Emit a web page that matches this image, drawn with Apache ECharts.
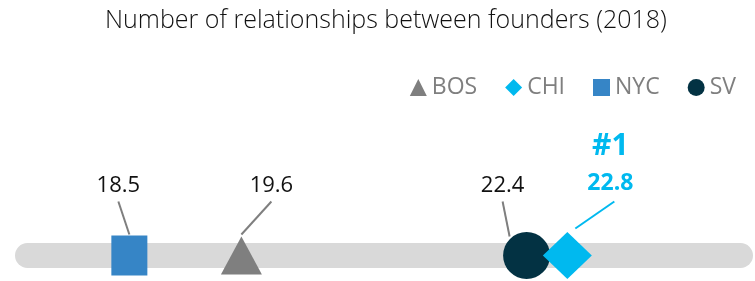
<!DOCTYPE html>
<html>
<head>
<meta charset="utf-8">
<script src="https://cdn.jsdelivr.net/npm/echarts@6/dist/echarts.min.js"></script>
<style>
  html, body { margin: 0; padding: 0; background: #fff; }
  #main { width: 755px; height: 281px; }
</style>
</head>
<body>
<div id="main"></div>
<script type="text/javascript">
// data
var cities = ['BOS', 'CHI', 'NYC', 'SV'];
var relationships = [19.6, 22.8, 18.5, 22.4];
var symbols = ['triangle', 'diamond', 'rect', 'circle'];
var colors = ['#7f7f7f', '#00b9ef', '#3685c6', '#033243'];

// look of each marker and its callout (pixels, relative to the marker)
var looks = {
  BOS: { size: [41, 38], from: [30, -54], to: [0, -21], label: [30, -70] },
  CHI: { size: [49, 47], from: [47, -54], to: [8, -27], label: [43, -72], top: true },
  NYC: { size: [36, 40], from: [-11, -54], to: [0, -21], label: [-11, -70] },
  SV:  { size: [47, 47], from: [-24, -54], to: [-17, -19], label: [-24, -70] }
};

var myChart = echarts.init(document.getElementById('main'));

var series = [];
cities.forEach(function (c, i) {
  series.push({
    name: c,
    type: 'scatter',
    symbol: symbols[i],
    symbolSize: looks[c].size,
    itemStyle: { color: colors[i], opacity: 1 },
    z: c == 'CHI' ? 4 : 3,
    data: [[relationships[i], 0]]
  });
});

// leader lines and value labels
series.push({
  type: 'custom',
  silent: true,
  z: 5,
  data: cities.map(function (c, i) { return [relationships[i], 0]; }),
  renderItem: function (params, api) {
    var c = cities[params.dataIndex];
    var lk = looks[c];
    var pt = api.coord([api.value(0), 0]);
    var hot = lk.top;
    var kids = [{
      type: 'line',
      shape: { x1: pt[0] + lk.from[0], y1: pt[1] + lk.from[1], x2: pt[0] + lk.to[0], y2: pt[1] + lk.to[1] },
      style: { stroke: hot ? '#00b9ef' : '#7f7f7f', lineWidth: 2 }
    }, {
      type: 'text',
      style: {
        text: api.value(0).toFixed(1),
        x: pt[0] + lk.label[0], y: pt[1] + lk.label[1],
        align: 'center', verticalAlign: 'middle',
        fill: hot ? '#00b9ef' : '#111',
        font: (hot ? 'bold 23px' : '22px') + ' "Open Sans", sans-serif'
      }
    }];
    if (hot) {
      kids.push({
        type: 'text',
        style: {
          text: '#1', x: pt[0] + lk.label[0], y: pt[1] + lk.label[1] - 37,
          align: 'center', verticalAlign: 'middle',
          fill: '#00b9ef', font: 'bold 30px "Open Sans", sans-serif'
        }
      });
    }
    return { type: 'group', children: kids };
  }
});

option = {
  animation: false,
  title: {
    text: 'Number of relationships between founders (2018)',
    left: 381,
    textAlign: 'center',
    top: 3,
    textStyle: { fontFamily: 'Open Sans', fontWeight: 300, fontSize: 25, color: '#111' }
  },
  legend: {
    right: 14,
    top: 71,
    itemWidth: 17,
    itemHeight: 17,
    itemGap: 28,
    data: cities.map(function (c, i) { return { name: c, icon: symbols[i] }; }),
    textStyle: { fontFamily: 'Open Sans', fontSize: 23, color: '#7f7f7f', padding: [0, 0, 0, 0] }
  },
  grid: { left: 27.5, right: 14.5, top: 235.5, height: 40 },
  xAxis: {
    type: 'value',
    min: 17.5,
    max: 24.5,
    axisLine: { show: true, onZero: true, lineStyle: { color: '#d9d9d9', width: 25, cap: 'round' } },
    axisTick: { show: false },
    axisLabel: { show: false },
    splitLine: { show: false }
  },
  yAxis: {
    type: 'value',
    min: -1,
    max: 1,
    show: false
  },
  series: series
};

myChart.setOption(option);
</script>
</body>
</html>
